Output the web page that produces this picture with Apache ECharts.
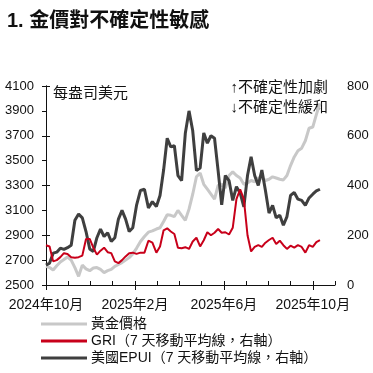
<!DOCTYPE html>
<html><head><meta charset="utf-8">
<script src="https://cdn.jsdelivr.net/npm/echarts@6/dist/echarts.min.js"></script>
<style>html,body{margin:0;padding:0;background:#fff}#c{width:373px;height:373px}</style>
</head><body><div id="c"></div>
<script>
// sample dates: every 5 days from 2024-10-01
const sampleStart = [2024, 9, 1];
const sampleStepDays = 5;
const sampleCount = 76;

// 黃金價格 (USD/oz, left axis)
const gold = [2650,2640,2620,2655,2685,2705,2725,2700,2640,2570,2660,2630,2615,2636,2640,2625,2600,2615,2625,2650,
  2665,2680,2700,2720,2750,2795,2850,2890,2925,2935,2950,2960,3010,3065,3060,3050,3100,3060,3020,3110,
  3230,3370,3400,3310,3270,3230,3190,3300,3310,3280,3380,3410,3380,3360,3310,3320,3340,3330,3360,3360,
  3340,3350,3370,3360,3350,3345,3380,3460,3530,3580,3600,3660,3760,3770,3870,3960];
// 美國EPUI (7-day MA, right axis)
const epui = [80,88,128,132,148,143,150,160,260,285,270,215,145,135,190,225,195,210,175,190,
  265,300,265,215,230,320,380,385,310,335,315,360,462,590,555,560,440,420,610,700,
  620,460,470,611,570,600,590,460,322,440,420,340,395,370,314,440,515,440,400,462,
  380,289,320,270,280,240,275,360,372,345,340,320,350,365,378,385];
// GRI (7-day MA, right axis)
const gri = [160,155,95,100,112,128,125,112,110,112,118,185,185,150,122,138,150,132,128,95,
  88,100,115,128,130,125,130,130,178,170,130,155,220,228,215,205,150,148,152,145,
  175,190,155,180,212,200,210,225,210,212,203,230,345,385,345,200,135,153,160,153,
  170,181,190,165,178,160,145,158,150,160,153,130,160,153,172,180];

const leftMin = 2500, leftMax = 4100, leftStep = 200;
const rightMin = 0, rightMax = 800, rightStep = 200;
const monthCount = 13; // 2024-10 .. 2025-10 (axis to 2025-11-01)
const majorMonths = [0, 4, 8, 12];
const xTickLabels = {0: '2024年10月', 4: '2025年2月', 8: '2025年6月', 12: '2025年10月'};

const names = ['黃金價格', 'GRI（7 天移動平均線，右軸）', '美國EPUI（7 天移動平均線，右軸）'];

function monthIndex(d) {
  const y = d.getUTCFullYear(), m = d.getUTCMonth(), day = d.getUTCDate();
  const dim = new Date(Date.UTC(y, m + 1, 0)).getUTCDate();
  return (y - 2024) * 12 + (m - 9) + (day - 1) / dim;
}
const xs = [];
for (let i = 0; i < sampleCount; i++) {
  xs.push(monthIndex(new Date(Date.UTC(sampleStart[0], sampleStart[1], sampleStart[2] + i * sampleStepDays))));
}
const pair = arr => arr.map((v, i) => [xs[i], v]);

const FONT = "'Liberation Sans', 'Noto Sans CJK TC', sans-serif";
const chart = echarts.init(document.getElementById('c'));
chart.setOption({
  animation: false,
  backgroundColor: '#fff',
  textStyle: { fontFamily: FONT, color: '#1a1a1a' },
  title: {
    text: '1. 金價對不確定性敏感', left: 2, top: 6,
    textStyle: { fontFamily: FONT, fontSize: 20, fontWeight: 'bold', color: '#111' }
  },
  grid: { left: 46, right: 38, top: 86, bottom: 88, containLabel: false },
  xAxis: [{
    type: 'value', min: 0, max: monthCount, interval: 1,
    axisLine: { lineStyle: { color: '#111', width: 1 } },
    axisTick: { inside: true, length: 4, lineStyle: { color: '#111' } },
    splitLine: { show: false },
    axisLabel: {
      margin: 13, fontSize: 14, color: '#111', fontFamily: FONT,
      formatter: v => xTickLabels[v] || ''
    }
  }, {
    // major ticks crossing the axis at labelled months
    type: 'value', min: 0, max: monthCount, interval: 4, position: 'bottom', gridIndex: 0,
    axisLine: { show: false },
    axisTick: { show: true, inside: false, length: 5, customValues: majorMonths, lineStyle: { color: '#111' } },
    axisLabel: { show: false },
    splitLine: { show: false }
  }],
  yAxis: [{
    type: 'value', min: leftMin, max: leftMax, interval: leftStep, position: 'left',
    axisLine: { show: true, lineStyle: { color: '#111' } },
    axisTick: { show: true, length: 4, lineStyle: { color: '#111' } },
    splitLine: { show: false },
    axisLabel: { margin: 12, fontSize: 13, color: '#111', fontFamily: FONT, formatter: v => String(v) }
  }, {
    type: 'value', min: rightMin, max: rightMax, interval: rightStep, position: 'right',
    axisLine: { show: true, lineStyle: { color: '#111' } },
    axisTick: { show: true, length: 4, lineStyle: { color: '#111' } },
    splitLine: { show: false },
    axisLabel: { margin: 12, fontSize: 13, color: '#111', fontFamily: FONT, formatter: v => String(v) }
  }],
  legend: {
    data: names, orient: 'vertical', left: 41, top: 317, height: 80, padding: 0,
    icon: 'rect', itemWidth: 46, itemHeight: 3, itemGap: 3,
    textStyle: { fontSize: 14, color: '#111', fontFamily: FONT, padding: [0, 0, 0, -1] }
  },
  graphic: [
    { type: 'text', left: 53, top: 86, style: { text: '每盎司美元', fontSize: 15, fill: '#111', fontFamily: FONT } },
    { type: 'text', right: 45, top: 80, style: { text: '↑不確定性加劇', fontSize: 15, fill: '#111', fontFamily: FONT, textAlign: 'right' } },
    { type: 'text', right: 45, top: 100, style: { text: '↓不確定性緩和', fontSize: 15, fill: '#111', fontFamily: FONT, textAlign: 'right' } }
  ],
  series: [
    { name: names[0], type: 'line', xAxisIndex: 0, yAxisIndex: 0, data: pair(gold), showSymbol: false,
      lineStyle: { color: '#c8c8c8', width: 3 }, itemStyle: { color: '#c8c8c8' } },
    { name: names[2], type: 'line', xAxisIndex: 0, yAxisIndex: 1, data: pair(epui), showSymbol: false,
      lineStyle: { color: '#3f3f3f', width: 3 }, itemStyle: { color: '#3f3f3f' } },
    { name: names[1], type: 'line', xAxisIndex: 0, yAxisIndex: 1, data: pair(gri), showSymbol: false,
      lineStyle: { color: '#c8001a', width: 2 }, itemStyle: { color: '#c8001a' } }
  ]
});
</script>
</body></html>
